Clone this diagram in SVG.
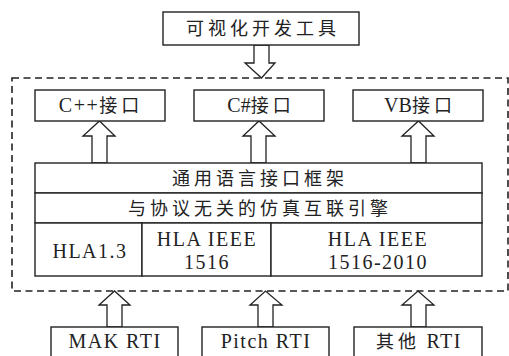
<svg xmlns="http://www.w3.org/2000/svg" width="509" height="356" viewBox="0 0 509 356">
<style>
.box{fill:#fff;stroke:#222;stroke-width:1.4}
.arr{fill:#fff;stroke:#222;stroke-width:1.3;stroke-linejoin:miter}
.dash{fill:none;stroke:#222;stroke-width:1.6;stroke-dasharray:7,4.5}
text{font-family:"Liberation Serif","Noto Sans CJK SC",serif;font-size:20px;fill:#222;text-anchor:middle}
.cjk{letter-spacing:4px;font-size:18px}
.lat{letter-spacing:1.5px}
</style>
<rect width="509" height="356" fill="#fff"/>
<g id="frame"><rect class="dash" x="12" y="78" width="496" height="213"/></g>
<g id="connectors">
<polygon class="arr" points="254,45 269,45 269,63 275,63 261.5,78 245,63 254,63"/>
<polygon class="arr" points="92,163 92,136 83,136 99.5,121 115,136 107,136 107,163"/>
<polygon class="arr" points="251,163 251,136 243,136 259,121 275,136 266,136 266,163"/>
<polygon class="arr" points="411,163 411,136 402,136 418.5,121 434,136 426,136 426,163"/>
<polygon class="arr" points="107,327 107,305 99,305 114.5,291 130,305 122,305 122,327"/>
<polygon class="arr" points="258,327 258,305 250,305 265.5,291 282,305 273,305 273,327"/>
<polygon class="arr" points="411,327 411,305 402,305 418,291 434,305 426,305 426,327"/>
</g>
<g id="tool"><rect class="box" x="163" y="12" width="196" height="33"/><text x="263" y="35" class="cjk">可视化开发工具</text></g>
<g id="cpp"><rect class="box" x="35" y="90" width="130" height="31"/><text x="101" y="112"><tspan class="lat">C++</tspan><tspan class="cjk">接口</tspan></text></g>
<g id="cs"><rect class="box" x="194" y="90" width="130" height="31"/><text x="261" y="112"><tspan>C#</tspan><tspan class="cjk">接口</tspan></text></g>
<g id="vb"><rect class="box" x="353" y="90" width="130" height="31"/><text x="420" y="112"><tspan>VB</tspan><tspan class="cjk">接口</tspan></text></g>
<g id="framework"><rect class="box" x="35" y="163" width="447" height="30"/><text x="260" y="185" class="cjk">通用语言接口框架</text></g>
<g id="engine"><rect class="box" x="35" y="193" width="447" height="30"/><text x="260" y="215" class="cjk">与协议无关的仿真互联引擎</text></g>
<g id="hla13"><rect class="box" x="35" y="223" width="107" height="53"/><text x="90" y="258" class="lat">HLA1.3</text></g>
<g id="hla1516"><rect class="box" x="142" y="223" width="129" height="53"/><text x="207" y="246" class="lat">HLA IEEE</text><text x="207" y="269" class="lat">1516</text></g>
<g id="hla2010"><rect class="box" x="271" y="223" width="211" height="53"/><text x="378" y="246" class="lat">HLA IEEE</text><text x="378" y="269" class="lat">1516-2010</text></g>
<g id="mak"><rect class="box" x="51" y="327" width="127" height="40"/><text x="115" y="348" class="lat">MAK RTI</text></g>
<g id="pitch"><rect class="box" x="202" y="327" width="127" height="40"/><text x="266" y="348" class="lat">Pitch RTI</text></g>
<g id="other"><rect class="box" x="354" y="327" width="128" height="40"/><text x="419" y="348"><tspan class="cjk">其他</tspan><tspan class="lat"> RTI</tspan></text></g>
</svg>
